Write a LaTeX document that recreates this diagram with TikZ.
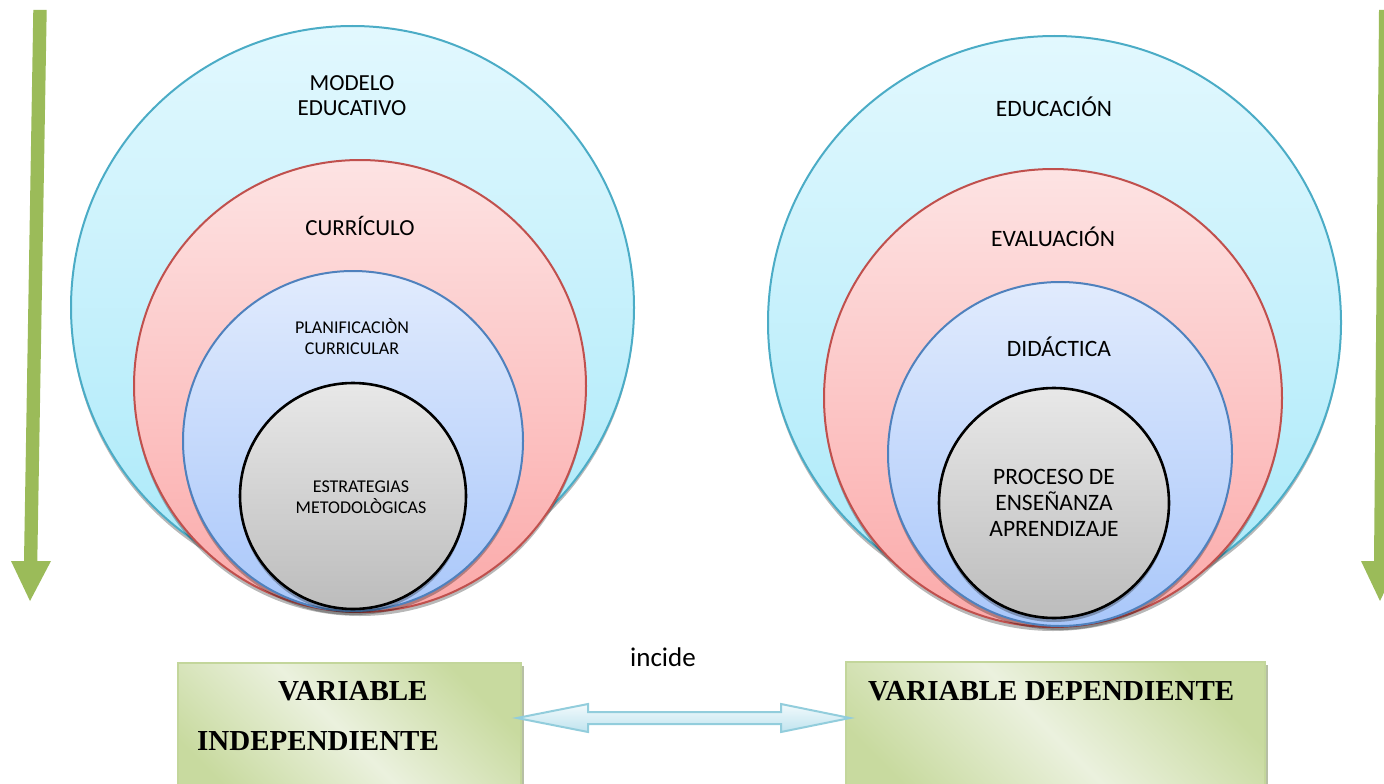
\documentclass[tikz,border=0pt]{standalone}
\usepackage{fontspec}
\setmainfont{Carlito}
\newfontfamily\tnr{Liberation Serif}
\usetikzlibrary{shadows,calc}
\definecolor{cyanB}{HTML}{4BACC6}
\definecolor{cyanT}{HTML}{E2F8FE}
\definecolor{cyanD}{HTML}{A9E9F9}
\definecolor{redB}{HTML}{C0504D}
\definecolor{redT}{HTML}{FDE3E3}
\definecolor{redD}{HTML}{FBA9A9}
\definecolor{blueB}{HTML}{4F81BD}
\definecolor{blueT}{HTML}{E1EBFD}
\definecolor{blueD}{HTML}{A9C7FA}
\definecolor{grayT}{HTML}{E8E8E8}
\definecolor{grayD}{HTML}{BCBCBC}
\definecolor{grn}{HTML}{9BBB59}
\definecolor{boxB}{HTML}{C3D69B}
\definecolor{boxD}{HTML}{C8DA9F}
\definecolor{boxL}{HTML}{EBF1DE}
\definecolor{arB}{HTML}{92CDDC}
\definecolor{arT}{HTML}{F2FAFC}
\definecolor{arD}{HTML}{BFE3EE}
\tikzset{
  ring/.style={circle, inner sep=0pt, line width=2pt,
    drop shadow={shadow xshift=0pt, shadow yshift=-4pt, opacity=.28, fill=black}},
  cyanring/.style={ring, draw=cyanB, top color=cyanT, bottom color=cyanD},
  redring/.style={ring, draw=redB, top color=redT, bottom color=redD},
  bluering/.style={ring, draw=blueB, top color=blueT, bottom color=blueD},
  grayring/.style={ring, draw=black, line width=2.6pt, top color=grayT, bottom color=grayD},
  big/.style={inner sep=0pt, align=center, font=\fontsize{23}{25}\selectfont},
  small/.style={inner sep=0pt, align=center, font=\fontsize{18}{21}\selectfont},
  vbox/.style={rectangle, inner sep=0pt, draw=boxB, line width=2pt,
    top color=boxD, bottom color=boxD, middle color=boxL, shading angle=-45,
    drop shadow={shadow xshift=3pt, shadow yshift=-3pt, opacity=.45, fill=black!40!grn}},
  vtxt/.style={inner sep=0pt, anchor=base west, font=\tnr\bfseries\fontsize{29}{31}\selectfont},
  garrow/.style={fill=grn, draw=none},
}
\begin{document}
\begin{tikzpicture}[x=1pt,y=-1pt]
\useasboundingbox (0,0) rectangle (1384,784);
\clip (0,0) rectangle (1384,784);
% green arrows
\fill[garrow] (33.3,10) -- (46.7,10) -- (37.3,561) -- (51,561) -- (30,601) -- (11,561) -- (24,561) -- cycle;
\fill[garrow] (1379,10) -- (1392,10) -- (1387,561) -- (1399,561) -- (1380,601) -- (1361,561) -- (1374,561) -- cycle;
% left circles
\node[cyanring, minimum size=563pt] (lo) at (352.5,307.5) {};
\node[redring, minimum size=452pt] (lr) at (360,386) {};
\node[bluering, minimum size=340pt] (lb) at (353,441) {};
\node[grayring, minimum size=226pt] (lg) at (353,496) {};
\node[big] (t1) at (352,96) {MODELO\\EDUCATIVO};
\node[big] (t2) at (360,226) {CURRÍCULO};
\node[small] (t3) at (352,336.5) {PLANIFICACIÒN\\CURRICULAR};
\node[small] (t4) at (361,497.5) {ESTRATEGIAS\\METODOLÒGICAS};
% right circles
\node[cyanring, minimum size=573pt] (ro) at (1054.5,322.5) {};
\node[redring, minimum size=458pt] (rr) at (1053,398) {};
\node[bluering, minimum size=344pt] (rb) at (1060,454) {};
\node[grayring, minimum size=230pt] (rg) at (1054,503) {};
\node[big, font=\fontsize{23.5}{26}\selectfont] (u1) at (1054,107) {EDUCACIÓN};
\node[big, font=\fontsize{23.5}{26}\selectfont] (u2) at (1053,237) {EVALUACIÓN};
\node[big, font=\fontsize{23.5}{26}\selectfont] (u3) at (1059,347) {DIDÁCTICA};
\node[big, font=\fontsize{23.5}{26}\selectfont] (u4) at (1054,503) {PROCESO DE\\ENSEÑANZA\\APRENDIZAJE};
% boxes
\node[vbox, minimum width=343pt, minimum height=150pt, anchor=north west] (vi) at (177,662) {};
\node[vbox, minimum width=419pt, minimum height=150pt, anchor=north west] (vd) at (845,661) {};
\node[vtxt] (vi1) at (278,700) {VARIABLE};
\node[vtxt] (vi2) at (197,750) {INDEPENDIENTE};
\node[vtxt] (vd1) at (868,700) {VARIABLE DEPENDIENTE};
% double arrow
\coordinate (aL) at ($(vi.north east)+(-5,56)$);
\coordinate (aR) at ($(vd.north west)+(5,57)$);
\fill[black!55, opacity=.55, xshift=3pt, yshift=-5pt]
  (aL) -- ($(aL)+(71,-14)$) -- ($(aL)+(71,-6)$) -- ($(aR)+(-69,-6)$) -- ($(aR)+(-69,-14)$) -- (aR)
  -- ($(aR)+(-69,14)$) -- ($(aR)+(-69,6)$) -- ($(aL)+(71,6)$) -- ($(aL)+(71,14)$) -- cycle;
\path[draw=arB, line width=2pt, line join=miter, top color=arT, bottom color=arD]
  (aL) -- ($(aL)+(71,-14)$) -- ($(aL)+(71,-6)$) -- ($(aR)+(-69,-6)$) -- ($(aR)+(-69,-14)$) -- (aR)
  -- ($(aR)+(-69,14)$) -- ($(aR)+(-69,6)$) -- ($(aL)+(71,6)$) -- ($(aL)+(71,14)$) -- cycle;
\node[inner sep=0pt, font=\fontsize{27}{30}\selectfont] (inc) at (663,657) {incide};
\end{tikzpicture}
\end{document}
